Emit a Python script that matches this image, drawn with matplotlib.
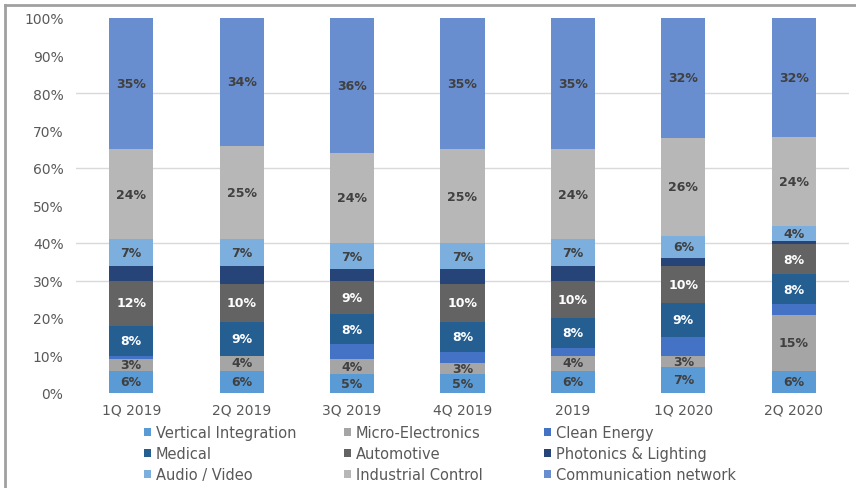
import matplotlib
matplotlib.use("Agg")
import matplotlib.pyplot as plt
from matplotlib.patches import Patch
from matplotlib.lines import Line2D
import numpy as np

plt.rcParams['font.family'] = ['DejaVu Sans']

categories = ["1Q 2019", "2Q 2019", "3Q 2019", "4Q 2019", "2019", "1Q 2020", "2Q 2020"]
series_names = ["Vertical Integration", "Micro-Electronics", "Clean Energy",
                "Medical", "Automotive", "Photonics & Lighting",
                "Audio / Video", "Industrial Control", "Communication network"]

vertical_integration = [6, 6, 5, 5, 6, 7, 6]
micro_electronics = [3, 4, 4, 3, 4, 3, 15]
clean_energy = [1, 0, 4, 3, 2, 5, 3]
medical = [8, 9, 8, 8, 8, 9, 8]
automotive = [12, 10, 9, 10, 10, 10, 8]
photonics_lighting = [4, 5, 3, 4, 4, 2, 1]
audio_video = [7, 7, 7, 7, 7, 6, 4]
industrial_control = [24, 25, 24, 25, 24, 26, 24]
communication_network = [35, 34, 36, 35, 35, 32, 32]

series = [vertical_integration, micro_electronics, clean_energy, medical, automotive,
          photonics_lighting, audio_video, industrial_control, communication_network]
colors = ["#5B9BD5", "#A5A5A5", "#4472C4", "#255E91", "#636363",
          "#264478", "#7CAFDD", "#B7B7B7", "#698ED0"]
show_label = [True, True, False, True, True, False, True, True, True]
label_color = ["#404040", "#404040", "#404040", "#FFFFFF", "#FFFFFF",
               "#FFFFFF", "#404040", "#404040", "#404040"]

data = np.array(series, dtype=float)
totals = data.sum(axis=0)
shares = data / totals * 100

fig = plt.figure(figsize=(8.56, 4.89), dpi=100)
ax = fig.add_axes([76 / 856, 1 - 394 / 489, 773 / 856, 375 / 489])

x = np.arange(len(categories))
bottom = np.zeros(len(categories))
for i, (vals, sh) in enumerate(zip(data, shares)):
    ax.bar(x, sh, 0.4, bottom=bottom, color=colors[i], zorder=2)
    if show_label[i]:
        for j in range(len(categories)):
            if vals[j] > 0:
                ax.text(x[j], bottom[j] + sh[j] / 2, f"{vals[j]:.0f}%", ha="center",
                        va="center", fontsize=9, fontweight="bold",
                        color=label_color[i], zorder=3)
    bottom += sh

ax.set_xlim(-0.5, len(categories) - 0.5)
ax.set_ylim(0, 100)
ax.set_yticks(np.arange(0, 101, 10))
ax.set_yticklabels([f"{v}%" for v in range(0, 101, 10)])
ax.set_xticks(x)
ax.set_xticklabels(categories)
ax.tick_params(axis="both", length=0, labelsize=10, labelcolor="#595959")
ax.tick_params(axis="y", pad=9)
ax.tick_params(axis="x", pad=7)
for s in ax.spines.values():
    s.set_visible(False)
for g in [30, 40, 60, 80]:
    ax.axhline(g, color="#D9D9D9", lw=1, zorder=1)

handles = [Patch(facecolor=c, edgecolor="none") for c in colors]
col_x = [144 / 856, 344 / 856, 544 / 856]
for k in range(3):
    idx = [k, k + 3, k + 6]
    leg = fig.legend([handles[i] for i in idx], [series_names[i] for i in idx],
                     loc="upper left", bbox_to_anchor=(col_x[k], 1 - 426 / 489),
                     frameon=False, fontsize=10.5, handlelength=0.5, handleheight=0.5,
                     handletextpad=0.3, labelspacing=0.42, borderpad=0, borderaxespad=0,
                     labelcolor="#595959")

fig.add_artist(Line2D([5 / 856, 1], [1 - 6 / 489, 1 - 6 / 489], transform=fig.transFigure,
                      color="#A0A0A0", lw=2))
fig.add_artist(Line2D([5 / 856, 5 / 856], [0, 1 - 6 / 489], transform=fig.transFigure,
                      color="#A0A0A0", lw=2))

fig.savefig("out.png", dpi=100)
